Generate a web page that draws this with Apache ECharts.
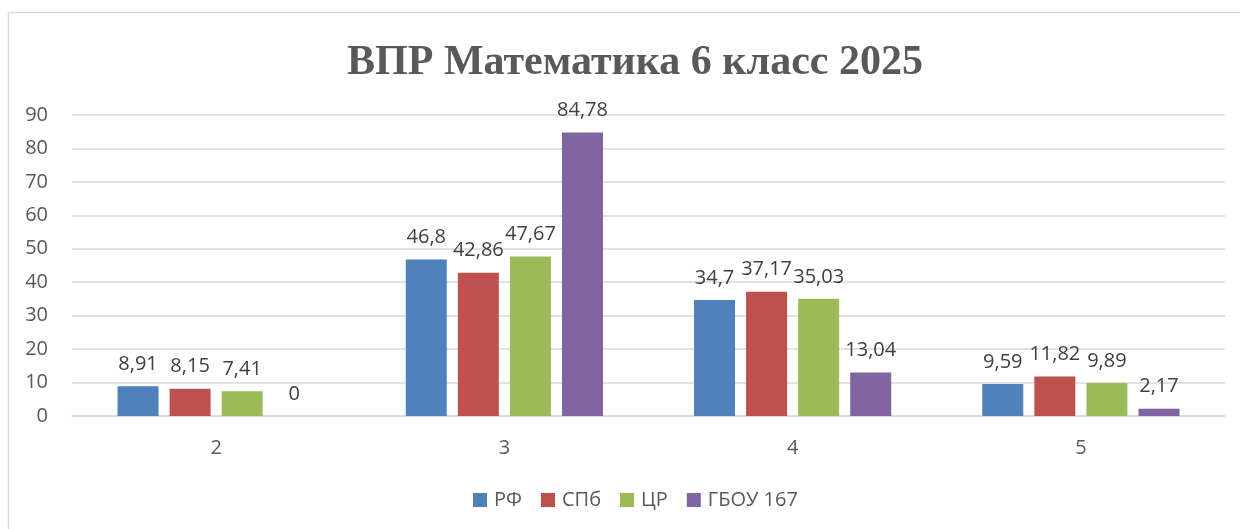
<!DOCTYPE html>
<html>
<head>
<meta charset="utf-8">
<script src="https://cdn.jsdelivr.net/npm/echarts@6/dist/echarts.min.js"></script>
<style>
  html, body { margin: 0; padding: 0; background: #fff; }
  #main { width: 1240px; height: 529px; }
</style>
</head>
<body>
<div id="main"></div>
<script>
// данные с картинки
var categories = ["2", "3", "4", "5"];
var seriesNames = ["РФ", "СПб", "ЦР", "ГБОУ 167"];
var rf = [8.91, 46.8, 34.7, 9.59];
var spb = [8.15, 42.86, 37.17, 11.82];
var cr = [7.41, 47.67, 35.03, 9.89];
var gbou = [0, 84.78, 13.04, 2.17];
var colors = ["#4F81BD", "#C0504D", "#9BBB59", "#8064A2"];

var font = "'Open Sans', 'Liberation Sans', sans-serif";

function makeSeries(name, data, color) {
  return {
    name: name,
    type: "bar",
    data: data,
    barWidth: 41,
    barGap: "27%",
    itemStyle: { color: color },
    label: {
      show: true,
      position: "top",
      distance: 12,
      color: "#404040",
      fontSize: 20,
      fontFamily: font,
      formatter: function (p) {
        return String(p.value).replace(".", ",");
      }
    }
  };
}

var myChart = echarts.init(document.getElementById("main"));
var option = {
  backgroundColor: "#fff",
  animation: false,
  color: colors,
  title: {
    text: "ВПР Математика 6 класс 2025",
    left: 630,
    textAlign: "center",
    top: 37,
    textStyle: {
      fontFamily: "'Liberation Serif', 'DejaVu Serif', serif",
      fontWeight: "bold",
      fontSize: 42,
      color: "#595959"
    }
  },
  legend: {
    bottom: 14,
    left: 468,
    itemWidth: 14,
    itemHeight: 14,
    itemGap: 19,
    icon: "rect",
    textStyle: { color: "#595959", fontSize: 20, fontFamily: font, padding: [0, 0, 0, 2] },
    data: seriesNames
  },
  grid: { left: 72, right: 15, top: 115, bottom: 113 },
  xAxis: {
    type: "category",
    data: categories,
    axisLine: { lineStyle: { color: "#d9d9d9", width: 1.5 } },
    axisTick: { show: false },
    axisLabel: { color: "#595959", fontSize: 20, fontFamily: font, margin: 22 }
  },
  yAxis: {
    type: "value",
    min: 0,
    max: 90,
    interval: 10,
    axisLine: { show: false },
    axisTick: { show: false },
    splitLine: { lineStyle: { color: "#d9d9d9", width: 1.5 } },
    axisLabel: { color: "#595959", fontSize: 20, fontFamily: font, margin: 24 }
  },
  graphic: [
    {
      type: "rect",
      silent: true,
      shape: { x: 8.5, y: 12.5, width: 1300, height: 600 },
      style: { fill: null, stroke: "#d9d9d9", lineWidth: 1.5 }
    }
  ],
  series: [
    makeSeries(seriesNames[0], rf, colors[0]),
    makeSeries(seriesNames[1], spb, colors[1]),
    makeSeries(seriesNames[2], cr, colors[2]),
    makeSeries(seriesNames[3], gbou, colors[3])
  ]
};
myChart.setOption(option);
</script>
</body>
</html>
